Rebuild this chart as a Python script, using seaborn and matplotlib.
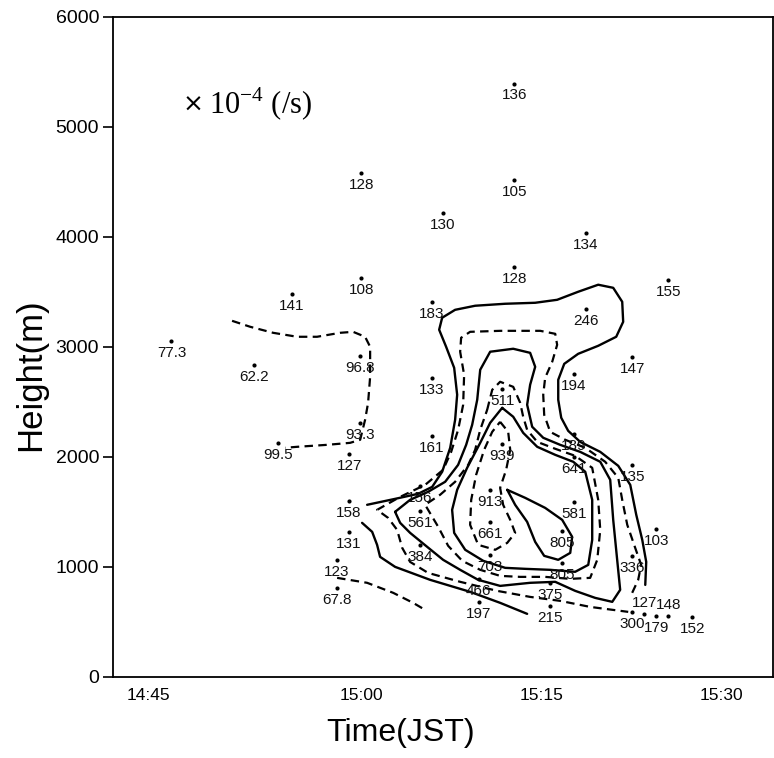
import numpy as np
import pandas as pd
import matplotlib.pyplot as plt
import seaborn as sns

# observation points: time in minutes from 15:00, height in m, value (x10^-4 /s)
t_obs = [-15.8, -8.9, -5.8, 0.0, 0.0, -0.1, -0.1, -6.9, -1.0, -1.0, -1.0, -2.0, -2.0,
         6.8, 5.9, 5.9, 5.9, 4.9, 4.9, 4.9,
         12.75, 12.75, 12.75, 11.75, 11.75, 10.75, 10.75, 10.75, 9.8, 9.8,
         18.7, 18.7, 17.7, 17.7, 17.7, 17.7, 16.75, 16.75, 15.75, 15.75,
         25.6, 22.6, 22.6, 24.6, 22.6, 22.6, 23.6, 24.6, 25.6, 27.6]
h_obs = [3055, 2836, 3482, 4582, 3627, 2918, 2309, 2127, 2027, 1600, 1318, 1064, 809,
         4218, 3409, 2718, 2191, 1736, 1509, 1200,
         5391, 4518, 3727, 2618, 2118, 1700, 1409, 1109, 891, 682,
         4036, 3345, 2755, 2209, 2000, 1591, 1327, 1036, 855, 645,
         3609, 2909, 1927, 1345, 1100, 591, 573, 555, 555, 545]
labels = ['77.3', '62.2', '141', '128', '108', '96.8', '93.3', '99.5', '127', '158', '131', '123', '67.8',
          '130', '183', '133', '161', '156', '561', '384',
          '136', '105', '128', '511', '939', '913', '661', '703', '466', '197',
          '134', '246', '194', '189', '641', '581', '805', '805', '375', '215',
          '155', '147', '135', '103', '336', '300', '127', '179', '148', '152']
labels_above = [46, 48]   # indices of labels written above their dot

# hand-drawn isolines (time min from 15:00, height m)
solid_1_t = [0.5, 2.83, 4.75, 5.92, 6.75, 7.42, 7.83, 8.0, 7.75, 7.08, 6.5, 6.75, 7.83, 9.5, 12.0, 14.5,
             16.33, 18.08, 19.75, 21.0, 21.75, 21.83, 21.25, 19.75, 18.08, 16.92, 16.42, 16.42, 16.67,
             17.25, 18.25, 19.92, 21.42, 22.42, 22.92, 23.42, 23.75, 23.67]
solid_1_h = [1564, 1618, 1664, 1727, 1864, 2082, 2336, 2564, 2809, 3000, 3155, 3264, 3336, 3373, 3391, 3400,
             3427, 3500, 3564, 3536, 3409, 3227, 3091, 3009, 2936, 2845, 2700, 2518, 2355,
             2236, 2136, 2045, 1918, 1745, 1473, 1245, 1045, 836]
solid_2_t = [0.08, 0.92, 1.33, 1.58, 2.83, 5.75, 9.08, 11.58, 13.83]
solid_2_h = [1400, 1318, 1200, 1091, 1000, 882, 773, 673, 573]
dash_1_t = [22.58, 23.08, 23.33, 22.83, 22.17, 21.75, 21.42, 20.33, 18.67, 17.0, 15.75, 15.25, 15.17, 15.33,
            15.92, 16.33, 16.17, 14.92, 11.58, 9.08, 8.33, 8.25, 8.58, 8.5, 8.08, 7.5, 6.83, 5.33, 3.25,
            1.33, 2.25, 3.0, 3.42, 4.08, 5.58, 8.25, 11.33, 14.08, 16.58, 19.08, 22.25]
dash_1_h = [764, 882, 1018, 1173, 1382, 1609, 1809, 1955, 2082, 2155, 2227, 2382, 2564, 2718,
            2864, 3018, 3118, 3145, 3145, 3136, 3082, 2955, 2745, 2473, 2245, 2045, 1882, 1745, 1636,
            1518, 1445, 1336, 1173, 1045, 945, 864, 782, 727, 691, 636, 591]
dash_ul_t = [-10.75, -9.25, -7.33, -5.33, -3.67, -1.75, -0.67, 0.33, 0.75, 0.75, 0.58, 0.33, -0.08, -0.92,
             -2.83, -5.33, -6.33]
dash_ul_h = [3236, 3182, 3127, 3091, 3091, 3127, 3136, 3091, 3000, 2727, 2491, 2336, 2155, 2127,
             2109, 2091, 2082]
dash_ll_t = [-2.0, 0.5, 2.67, 4.33, 5.33]
dash_ll_h = [900, 855, 764, 673, 609]
solid_3_t = [2.83, 4.08, 5.58, 7.0, 8.08, 8.75, 9.25, 9.67, 9.92, 10.75, 12.67, 14.08, 14.5, 14.08, 13.83,
             14.25, 15.17, 16.58, 18.25, 19.92, 20.75, 21.0, 21.33, 21.58, 20.92, 19.5, 17.83, 16.17, 14.08,
             11.58, 9.75, 8.25, 6.83, 5.5, 4.08, 3.25, 2.83]
solid_3_h = [1500, 1609, 1682, 1773, 1927, 2109, 2291, 2518, 2791, 2955, 2982, 2945, 2818, 2655, 2473,
             2273, 2173, 2109, 2045, 1955, 1791, 1427, 1064, 791, 682, 718, 782, 864, 855,
             827, 882, 973, 1064, 1182, 1309, 1400, 1500]
dash_2_t = [10.5, 10.92, 11.58, 12.67, 13.25, 13.5, 13.83, 14.67, 16.17, 17.83, 19.25, 19.75, 19.92, 19.67,
            19.08, 17.42, 15.33, 13.25, 11.58, 9.92, 8.42, 7.25, 6.42, 5.33, 6.58, 7.83, 8.92, 9.5, 9.92,
            10.5]
dash_2_h = [2427, 2609, 2682, 2636, 2491, 2364, 2245, 2136, 2073, 2009, 1900, 1609, 1336, 1064,
            900, 891, 909, 909, 918, 973, 1055, 1191, 1364, 1564, 1655, 1773, 1927, 2064, 2245,
            2427]
solid_4_t = [11.75, 12.67, 13.5, 14.67, 16.17, 17.67, 18.67, 19.25, 19.25, 18.92, 17.83, 15.75, 13.67,
             12.0, 10.17, 8.67, 7.75, 7.58, 8.0, 8.83, 9.92, 10.75, 11.75]
solid_4_h = [2445, 2364, 2218, 2091, 2018, 1955, 1864, 1609, 1245, 1018, 955, 973, 982,
             991, 1055, 1155, 1309, 1518, 1700, 1900, 2127, 2309, 2445]
dash_3_t = [11.58, 12.25, 12.42, 12.08, 11.58, 11.83, 12.42, 12.83, 12.17, 11.17, 9.75, 9.08, 9.17, 9.58,
            10.25, 10.92, 11.58]
dash_3_h = [2318, 2227, 2064, 1882, 1718, 1564, 1427, 1309, 1218, 1155, 1200, 1382, 1609, 1836,
            2064, 2227, 2318]
solid_5_t = [12.17, 13.67, 15.33, 16.75, 17.58, 17.42, 16.42, 15.25, 14.5, 13.83, 12.83, 12.17]
solid_5_h = [1700, 1627, 1536, 1427, 1273, 1127, 1064, 1100, 1227, 1409, 1564, 1700]

tick_pos = [-17.7, 0, 15, 30]
tick_lab = ['14:45', '15:00', '15:15', '15:30']

sns.set_style('white')
plt.rcParams['font.family'] = ['Liberation Sans', 'DejaVu Sans']
plt.rcParams['text.color'] = 'black'
plt.rcParams['axes.labelcolor'] = 'black'
plt.rcParams['xtick.color'] = 'black'
plt.rcParams['ytick.color'] = 'black'

fig = plt.figure(figsize=(7.74, 7.58), dpi=100)
ax = fig.add_axes([0.146, 0.107, 0.853, 0.871])

dash = (0, (3.8, 2.4))
solids = [(solid_1_t, solid_1_h), (solid_2_t, solid_2_h), (solid_3_t, solid_3_h),
          (solid_4_t, solid_4_h), (solid_5_t, solid_5_h)]
dashes = [(dash_1_t, dash_1_h), (dash_ul_t, dash_ul_h), (dash_ll_t, dash_ll_h),
          (dash_2_t, dash_2_h), (dash_3_t, dash_3_h)]
for tt, hh in solids:
    sns.lineplot(x=tt, y=hh, sort=False, estimator=None, color='black', lw=1.7, ax=ax)
for tt, hh in dashes:
    sns.lineplot(x=tt, y=hh, sort=False, estimator=None, color='black', lw=1.6,
                 linestyle=dash, ax=ax)

df = pd.DataFrame({'t': t_obs, 'h': h_obs, 'val': labels})
sns.scatterplot(data=df, x='t', y='h', color='black', s=9, linewidth=0, ax=ax, zorder=3)
for i, row in df.iterrows():
    dy = 7.5 if i in labels_above else -8.5
    ax.annotate(row['val'], (row['t'], row['h']), xytext=(0, dy), textcoords='offset points',
                ha='center', va='center', fontsize=11, color='#111111')

ax.text(-14.9, 5200, '×', family='DejaVu Sans', fontsize=18, ha='left', va='center')
ax.text(-12.7, 5200, '10' + r'$^{\mathregular{-4}}$' + ' (/s)', family='Liberation Serif',
        fontsize=22, ha='left', va='center')

ax.set_xlim(-20.67, 34.33)
ax.set_ylim(0, 6000)
ax.set_xticks(tick_pos)
ax.set_xticklabels(tick_lab)
ax.set_yticks(np.arange(0, 6001, 1000))
ax.tick_params(axis='x', length=0, pad=8, labelsize=12.5)
ax.tick_params(axis='y', length=7, width=1.2, direction='out', left=True, pad=3, labelsize=14)
for s in ax.spines.values():
    s.set_linewidth(1.3)
    s.set_color('black')
ax.set_xlabel('Time(JST)', fontsize=23)
ax.set_ylabel('Height(m)', fontsize=25)
ax.xaxis.set_label_coords(0.435, -0.062)
ax.yaxis.set_label_coords(-0.1, 0.458)

fig.savefig('out.png', dpi=100)
